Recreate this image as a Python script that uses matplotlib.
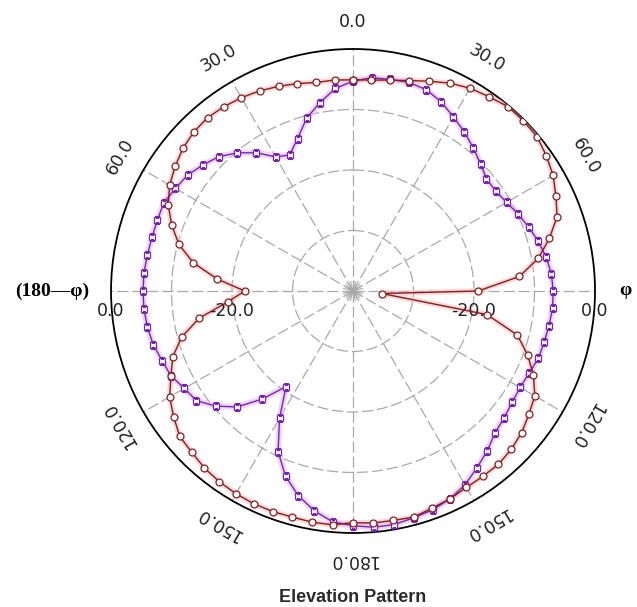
import numpy as np
import matplotlib
matplotlib.use("Agg")
import matplotlib.pyplot as plt

# angles in degrees, clockwise from top (0..175 = phi side, 185..355 = (180-phi) side)
angles = list(range(0, 360, 5))

# gain in dB, first the phi side 0..180, then the left side 185..355
red_db = [-5.1, -5.0, -4.6, -4.0, -3.1, -2.1, -1.3, -0.8, -0.2, -0.2,
          -0.3, -1.0, -1.8, -3.0, -4.1, -6.4, -8.9, -12.4, -19.3, -35.2,
          -17.5, -11.9, -9.3, -7.1, -5.3, -4.5, -3.6, -3.0, -2.6, -2.6,
          -2.5, -2.1, -1.8, -1.3, -1.5, -1.5, -1.7,
          -1.2, -1.2, -1.3, -1.2, -1.2, -1.3, -1.5, -1.8, -2.3, -2.6,
          -3.8, -5.0, -6.8, -8.3, -10.7, -14.2, -19.2, -22.1, -17.5, -13.2,
          -10.2, -8.1, -6.3, -5.0, -4.1, -3.3, -2.8, -2.6, -2.8, -3.1,
          -3.5, -4.0, -4.5, -5.0, -5.0]

purple_db = [-5.3, -4.6, -4.5, -4.3, -4.6, -5.5, -6.8, -7.9, -9.1, -10.2,
             -11.2, -11.2, -10.7, -9.9, -9.1, -8.3, -7.6, -7.1, -6.9, -6.9,
             -7.1, -7.3, -7.4, -7.9, -8.1, -7.9, -7.4, -6.8, -5.5, -4.3,
             -3.0, -2.1, -1.5, -1.2, -0.8, -0.8, -1.2,
             -1.7, -3.1, -5.0, -7.4, -10.7, -15.7, -20.7, -16.7, -12.9, -10.4,
             -8.4, -7.8, -6.8, -6.4, -5.8, -5.5, -5.3, -5.3, -5.3, -5.5,
             -5.6, -5.6, -5.5, -6.1, -6.6, -7.6, -8.6, -10.2, -12.1, -14.4,
             -15.2, -13.2, -10.4, -8.4, -6.4]

angle_ticks = [0, 30, 60, 120, 150, 180, 210, 240, 300, 330]
ring_levels = [-30, -20, -10]
radial_labels = [0, -20]

red = "#8b1a1a"
purple = "#7b22b5"
grid_col = "#a9a9a9"

fig = plt.figure(figsize=(6.37, 6.07), dpi=100)
ax = fig.add_axes([0.1743, 0.1219, 0.7598, 0.7974], projection="polar")
ax.set_theta_zero_location("N")
ax.set_theta_direction(-1)
ax.set_rlim(-40, 0)

ax.set_thetagrids(range(0, 360, 30))
ax.set_rgrids(ring_levels)
ax.set_xticklabels([])
ax.set_yticklabels([])
ax.grid(True, color=grid_col, linestyle=(0, (9, 3)), linewidth=0.9)
ax.spines["polar"].set_color("black")
ax.spines["polar"].set_linewidth(1.3)

# little star in the middle
for a in range(0, 360, 15):
    ax.plot([np.radians(a)] * 2, [-40, -38.4], color=grid_col, lw=0.8)

th = np.radians(angles + [angles[0]])
r1 = red_db + [red_db[0]]
r2 = purple_db + [purple_db[0]]

ax.plot(th, r1, color="#f3c2c2", lw=4, alpha=0.6, zorder=3)
ax.plot(th, r2, color="#e2bdf3", lw=4.5, alpha=0.6, zorder=3)
ax.plot(th, r1, color=red, lw=1.0, marker="o", ms=5, mfc="white",
        mec=red, mew=0.9, zorder=5)
ax.plot(th, r2, color=purple, lw=1.0, marker="s", ms=4.5, mfc="white",
        mec=purple, mew=0.9, zorder=4)

for a in angle_ticks:
    txt = "%.1f" % min(a, 360 - a)
    ax.text(np.radians(a), 4.4, txt, ha="center", va="center",
            rotation=(-a) % 360, rotation_mode="anchor",
            fontsize=12.5, color="#222222")

for v in radial_labels:
    for a in (90, 270):
        ax.annotate("%.1f" % v, xy=(np.radians(a), v), xytext=(0, -20),
                    textcoords="offset pixels", ha="center", va="center",
                    fontsize=12.5, color="#222222")

ax.text(np.radians(270), 9.8, "(180\u2014\u03c6)", ha="center", va="center",
        fontsize=14, fontweight="bold",
        family=["Liberation Serif", "DejaVu Serif"])
ax.text(np.radians(90), 5.0, "\u03c6", ha="center", va="center",
        fontsize=14, fontweight="bold",
        family=["Liberation Serif", "DejaVu Serif"])

fig.text(0.554, 0.016, "Elevation Pattern", ha="center", va="center",
         fontsize=13, fontweight="bold", color="#2a2a2a",
         family=["Liberation Sans", "DejaVu Sans"])

fig.savefig("out.png", dpi=100)
